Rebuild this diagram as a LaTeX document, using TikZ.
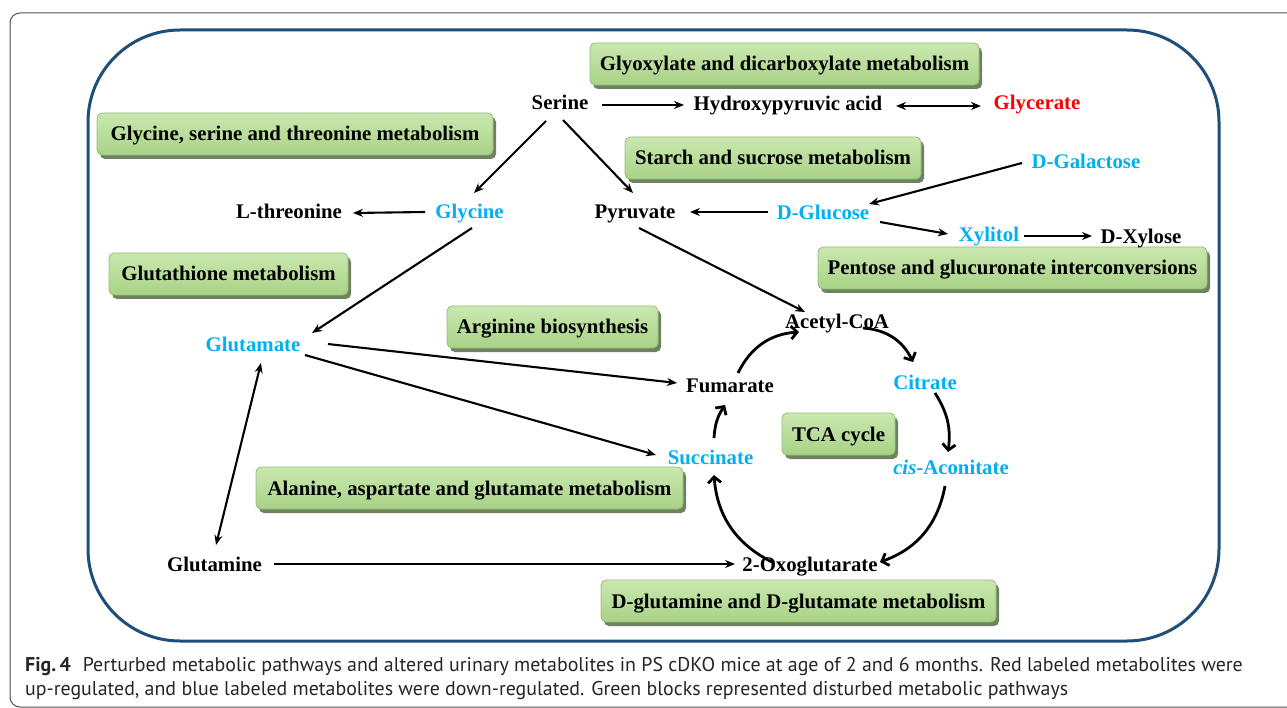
\documentclass[tikz,border=0pt]{standalone}
\usepackage{fontspec}
\setmainfont{Liberation Serif}
\newfontfamily\capfont{PT Sans}
\usetikzlibrary{arrows.meta,calc,shadows}
\definecolor{metblue}{RGB}{0,176,240}
\definecolor{metred}{RGB}{255,0,0}
\definecolor{framegray}{RGB}{80,80,80}
\definecolor{frameblue}{RGB}{31,78,121}
\definecolor{boxtop}{RGB}{202,232,176}
\definecolor{boxbot}{RGB}{168,210,134}
\definecolor{boxedge}{RGB}{150,190,120}
\definecolor{boxshadow}{RGB}{110,130,98}
\begin{document}
\begin{tikzpicture}[x=1pt,y=-1pt,
  met/.style={font=\fontsize{20.8}{22}\selectfont\bfseries, inner sep=0pt, text height=14pt, text depth=0pt},
  metb/.style={met, text=metblue},
  metr/.style={met, text=metred},
  pathbox/.style={draw=boxedge, line width=0.8pt, rounded corners=5pt,
    top color=boxtop, bottom color=boxbot,
    font=\fontsize{20.8}{22}\selectfont\bfseries, text height=14pt, text depth=0pt,
    minimum height=42pt, inner xsep=6pt,
    general shadow={fill=boxshadow, shadow xshift=3pt, shadow yshift=-4pt}},
  arr/.style={line width=2.1pt, -{Stealth[length=10pt,width=8pt]}},
  arrr/.style={line width=2.1pt, {Stealth[length=10pt,width=8pt]}-{Stealth[length=10pt,width=8pt]}},
  tca/.style={line width=2.8pt, -{Straight Barb[length=6pt,width=13pt]}},
  capt/.style={font=\capfont\fontsize{19.9}{22}\selectfont, inner sep=0pt, anchor=base west, text=black!85}
]
\useasboundingbox (0,0) rectangle (1287,708);
\fill[white] (0,0) rectangle (1287,708);
% frames
\draw[framegray, line width=1pt, rounded corners=10pt] (10,13) rectangle (1320,707);
\draw[frameblue, line width=3pt, rounded corners=92pt] (88,30) rectangle (1219,641);

% pathway boxes
\node[pathbox, minimum width=389pt] (glyox) at (784.5,64) {Glyoxylate and dicarboxylate metabolism};
\node[pathbox, minimum width=396pt] (gst) at (295,134) {Glycine, serine and threonine metabolism};
\node[pathbox, minimum width=296pt] (starch) at (773,158) {Starch and sucrose metabolism};
\node[pathbox, minimum width=239pt] (gsh) at (228.5,274) {Glutathione metabolism};
\node[pathbox, minimum width=389pt] (pentose) at (1012.5,268) {Pentose and glucuronate interconversions};
\node[pathbox, minimum width=211pt] (arg) at (552.5,327) {Arginine biosynthesis};
\node[pathbox, minimum width=113pt] (tcabox) at (838.5,434) {TCA cycle};
\node[pathbox, minimum width=427pt] (ala) at (469.5,488) {Alanine, aspartate and glutamate metabolism};
\node[pathbox, minimum width=395pt] (dglu) at (798.5,601) {D-glutamine and D-glutamate metabolism};

% metabolites
\node[met]  (serine)    at (560,103)   {Serine};
\node[met]  (hpa)       at (788,104)   {Hydroxypyruvic acid};
\node[metr] (glycerate) at (1037,103)  {Glycerate};
\node[metb] (galactose) at (1086,162)  {D-Galactose};
\node[met]  (thr)       at (289,212)   {L-threonine};
\node[metb] (glycine)   at (469.5,212) {Glycine};
\node[met]  (pyruvate)  at (635,212)   {Pyruvate};
\node[metb] (glucose)   at (823,213)   {D-Glucose};
\node[metb] (xylitol)   at (989,235)   {Xylitol};
\node[met]  (xylose)    at (1141,237)  {D-Xylose};
\node[met]  (acetyl)    at (837,322)   {Acetyl-CoA};
\node[metb] (glutamate) at (253,345)   {Glutamate};
\node[met]  (fumarate)  at (730,385)   {Fumarate};
\node[metb] (citrate)   at (925,382)   {Citrate};
\node[metb] (succinate) at (710.5,457) {Succinate};
\node[metb] (aconitate) at (951,467)   {\textit{cis}-Aconitate};
\node[met]  (glutamine) at (214.5,564) {Glutamine};
\node[met]  (oxo)       at (810,564)   {2-Oxoglutarate};

% straight connectors
\draw[arr]  ($(serine)+(42,2)$) -- ($(hpa)+(-104,1)$);
\draw[arrr] ($(hpa)+(108,2)$) -- ($(glycerate)+(-56,3)$);
\draw[arr]  ($(serine)+(-14,18)$) -- ($(glycine)+(4.5,-19)$);
\draw[arr]  ($(serine)+(3,17)$) -- ($(pyruvate)+(-2,-19)$);
\draw[arr]  ($(glycine)+(-44.5,0)$) -- ($(thr)+(64,1)$);
\draw[arr]  ($(glucose)+(-55,-1)$) -- ($(pyruvate)+(55,0)$);
\draw[arr]  ($(galactose)+(-64,1)$) -- ($(glucose)+(46,-9)$);
\draw[arr]  ($(glucose)+(57,9)$) -- ($(xylitol)+(-41,-1)$);
\draw[arr]  ($(xylitol)+(35,1)$) -- ($(xylose)+(-49,-1)$);
\draw[arr]  ($(pyruvate)+(4,16)$) -- ($(acetyl)+(-32,-10)$);
\draw[arr]  ($(glycine)+(2.5,16)$) -- ($(glutamate)+(59,-12)$);
\draw[arr]  ($(glutamate)+(75,-1)$) -- ($(fumarate)+(-53,-2)$);
\draw[arr]  ($(glutamate)+(52,10)$) -- ($(succinate)+(-54.5,-2)$);
\draw[arrr] ($(glutamate)+(8,18)$) -- ($(glutamine)+(1.5,-19)$);
\draw[arr]  ($(glutamine)+(59.5,0)$) -- ($(oxo)+(-75,0)$);

% TCA cycle
\draw[tca] ($(succinate)+(3.5,-19)$) to[bend left=15] ($(fumarate)+(-5,20)$);
\draw[tca] ($(fumarate)+(8,-12)$) to[bend left=30] ($(acetyl)+(-38,10)$);
\draw[tca] ($(acetyl)+(26,6)$) to[bend left=30] ($(citrate)+(-12,-20)$);
\draw[tca] ($(citrate)+(10,11)$) to[bend left=20] ($(aconitate)+(-3,-15)$);
\draw[tca] ($(aconitate)+(-6,19)$) to[bend left=30] ($(oxo)+(70,-2)$);
\draw[tca] ($(oxo)+(-36,-1)$) to[bend left=30] ($(succinate)+(3.5,18)$);

% caption
\node[capt] (cap1) at (25,671) {\textbf{Fig.\,4}\hspace{0.6em}Perturbed metabolic pathways and altered urinary metabolites in PS cDKO mice at age of 2 and 6 months. Red labeled metabolites were};
\node[capt] (cap2) at (25,695) {up-regulated, and blue labeled metabolites were down-regulated. Green blocks represented disturbed metabolic pathways};
\end{tikzpicture}
\end{document}
